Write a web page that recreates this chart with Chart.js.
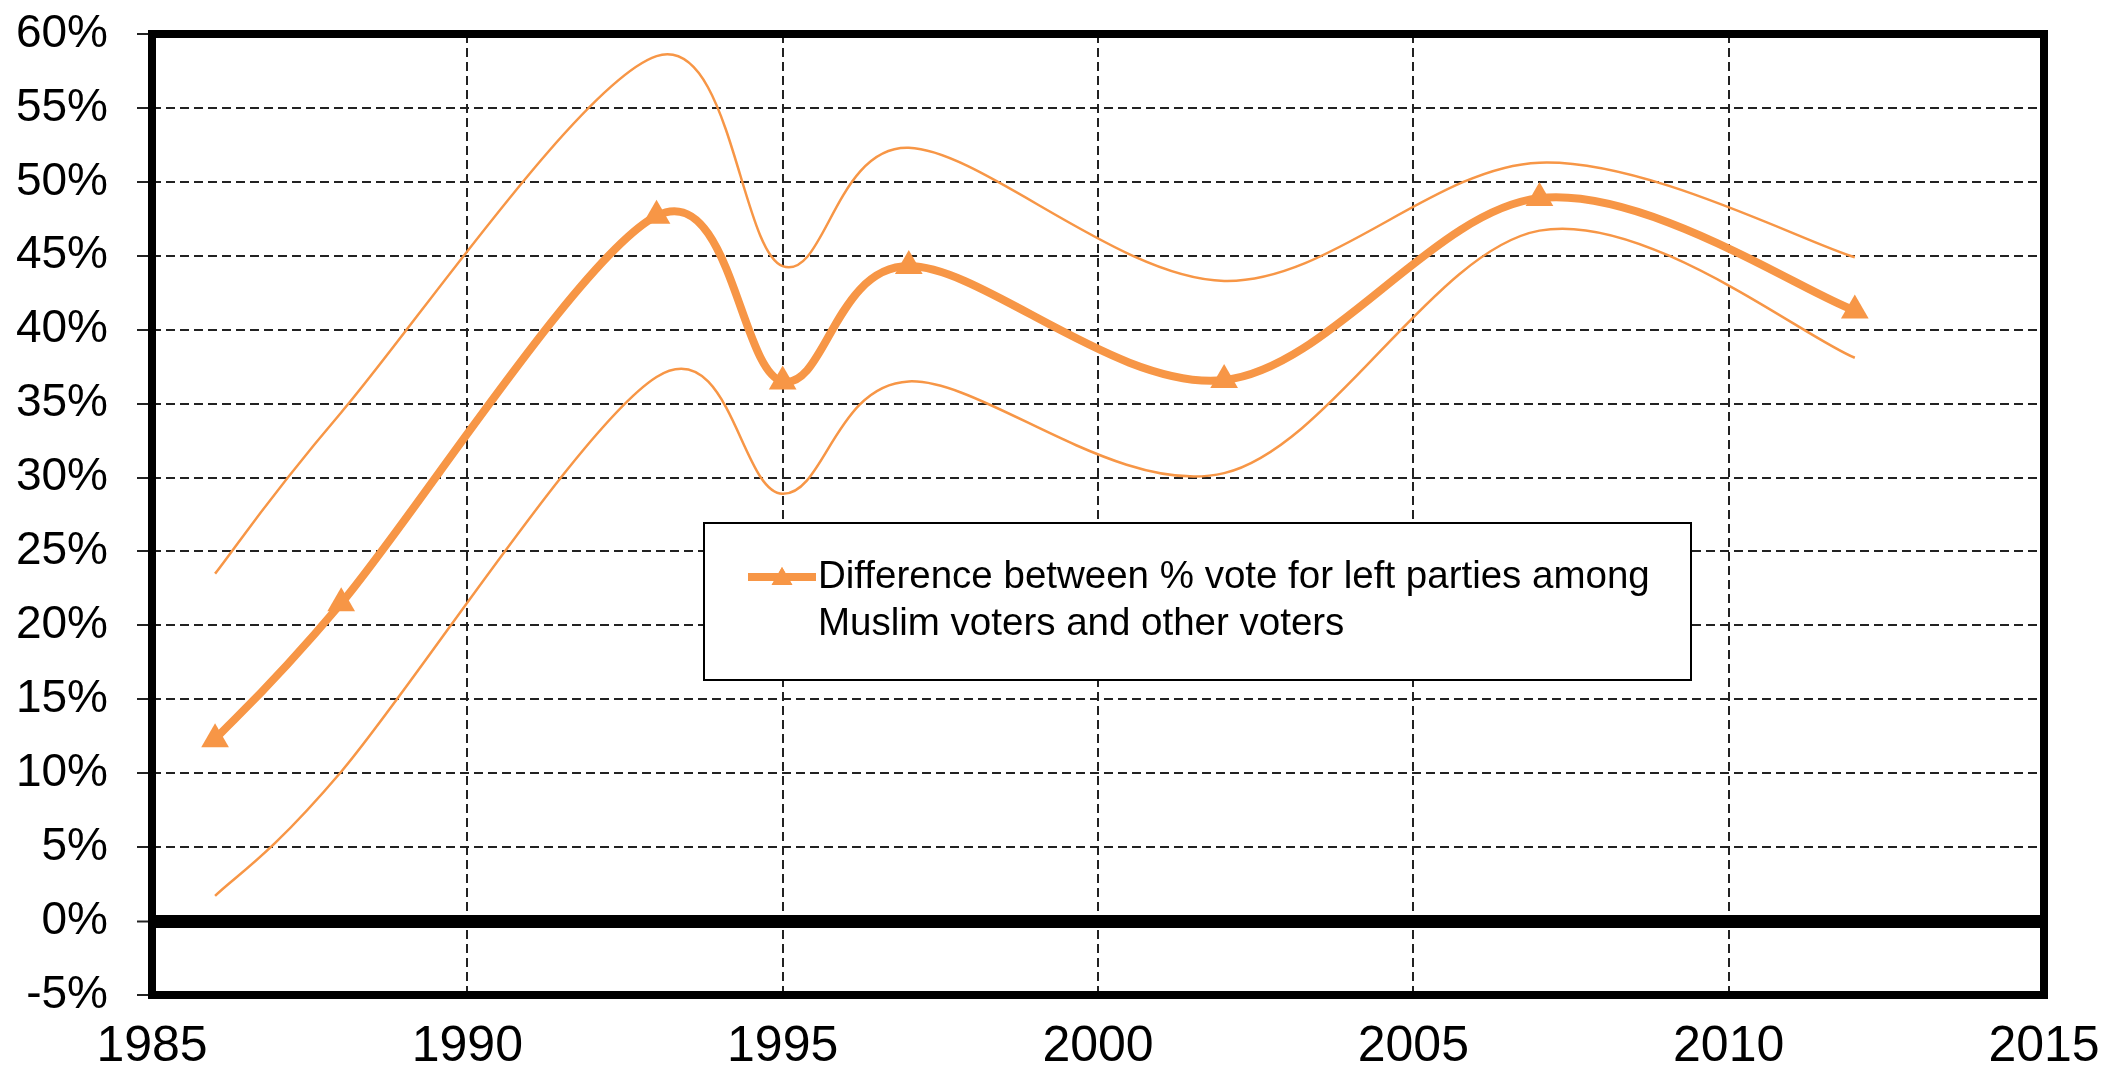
<!DOCTYPE html>
<html>
<head>
<meta charset="utf-8">
<script src="https://cdn.jsdelivr.net/npm/chart.js@4.4.1/dist/chart.umd.min.js"></script>
<style>
  html, body { margin: 0; padding: 0; background: #fff; }
  canvas { display: block; }
</style>
</head>
<body>
<canvas id="chart" width="2104" height="1081"></canvas>
<script>
// election years
const years = [1986, 1988, 1993, 1995, 1997, 2002, 2007, 2012];
// gap in left vote, Muslim vs other voters (%)
const gapValues = [12.3, 21.5, 47.7, 36.5, 44.3, 36.6, 48.9, 41.3];
// confidence band
const upperValues = [23.5, 34.4, 58.5, 44.3, 52.3, 43.3, 51.3, 44.9];
const lowerValues = [1.7, 10.1, 36.8, 28.9, 36.5, 30.3, 46.7, 38.1];

const xTicks = [1985, 1990, 1995, 2000, 2005, 2010, 2015];
const yTicks = [-5, 0, 5, 10, 15, 20, 25, 30, 35, 40, 45, 50, 55, 60];

const legendLines = ['Difference between % vote for left parties among', 'Muslim voters and other voters'];

const ORANGE = '#F79646';
const FONT = '"Liberation Sans", Arial, sans-serif';

const toPoints = vals => years.map((y, i) => ({ x: y, y: vals[i] }));

// Excel-like smoothing: uniform Catmull-Rom control points on the library's points
const smoothPlugin = {
    id: 'excelSmooth',
    beforeDatasetsDraw(chart) {
        chart.data.datasets.forEach((ds, i) => {
            const meta = chart.getDatasetMeta(i);
            const line = meta.dataset;
            if (!line || typeof line.updateControlPoints !== 'function') return;
            line.updateControlPoints(chart.chartArea, 'x');
            const pts = meta.data;
            const n = pts.length;
            for (let k = 0; k < n; k++) {
                const p = pts[k];
                const prev = pts[Math.max(k - 1, 0)];
                const next = pts[Math.min(k + 1, n - 1)];
                const dx = (next.x - prev.x) / 6;
                const dy = (next.y - prev.y) / 6;
                p.cp1x = p.x - dx; p.cp1y = p.y - dy;
                p.cp2x = p.x + dx; p.cp2y = p.y + dy;
            }
            line._path = undefined;
        });
    }
};

// frame around the plot + the boxed legend
const framePlugin = {
    id: 'frame',
    afterDatasetsDraw(chart) {
        const { ctx, chartArea: a } = chart;
        const ds = chart.data.datasets[0];
        // legend box
        const bx = a.left + 552, by = a.top + 489, bw = 987, bh = 157;
        ctx.save();
        ctx.fillStyle = '#fff';
        ctx.fillRect(bx, by, bw, bh);
        ctx.strokeStyle = '#000';
        ctx.lineWidth = 2;
        ctx.strokeRect(bx, by, bw, bh);
        // sample line + marker
        const sy = by + 54;
        ctx.strokeStyle = ds.borderColor;
        ctx.lineWidth = 8;
        ctx.beginPath();
        ctx.moveTo(bx + 44, sy);
        ctx.lineTo(bx + 112, sy);
        ctx.stroke();
        ctx.fillStyle = ds.borderColor;
        Chart.helpers.drawPoint(ctx, { pointStyle: 'triangle', radius: 12, borderWidth: 0 }, bx + 78, sy + 2);
        ctx.fill();
        ctx.fillStyle = '#000';
        ctx.font = '38.5px ' + FONT;
        ctx.textBaseline = 'middle';
        ctx.textAlign = 'left';
        legendLines.forEach((t, i) => ctx.fillText(t, bx + 114, sy + i * 47));
        ctx.restore();
    },
    afterDraw(chart) {
        const { ctx, chartArea: a } = chart;
        ctx.save();
        ctx.strokeStyle = '#000';
        ctx.lineWidth = 8;
        ctx.strokeRect(a.left, a.top, a.right - a.left, a.bottom - a.top);
        ctx.restore();
    }
};

new Chart(document.getElementById('chart'), {
    type: 'line',
    data: {
        datasets: [
            {
                label: legendLines.join(' '),
                data: toPoints(gapValues),
                borderColor: ORANGE,
                backgroundColor: ORANGE,
                borderWidth: 8,
                tension: 0.4,
                pointStyle: 'triangle',
                pointRadius: 16,
                pointBorderWidth: 0,
                pointBackgroundColor: ORANGE
            },
            {
                label: 'upper',
                data: toPoints(upperValues),
                borderColor: ORANGE,
                borderWidth: 2.5,
                tension: 0.4,
                pointRadius: 0
            },
            {
                label: 'lower',
                data: toPoints(lowerValues),
                borderColor: ORANGE,
                borderWidth: 2.5,
                tension: 0.4,
                pointRadius: 0
            }
        ]
    },
    options: {
        responsive: false,
        animation: false,
        devicePixelRatio: 1,
        layout: { padding: { top: 34, right: 60, left: 0, bottom: 0 } },
        plugins: {
            legend: { display: false },
            tooltip: { enabled: false }
        },
        scales: {
            x: {
                type: 'linear',
                min: xTicks[0],
                max: xTicks[xTicks.length - 1],
                afterBuildTicks: s => { s.ticks = xTicks.map(v => ({ value: v })); },
                afterFit: s => { s.height = 86; s.paddingLeft = 0; s.paddingRight = 0; },
                ticks: {
                    callback: v => String(v),
                    color: '#000',
                    font: { family: FONT, size: 50 },
                    padding: 22,
                    maxRotation: 0
                },
                grid: {
                    color: '#222',
                    lineWidth: 2,
                    drawTicks: false
                },
                border: { display: false, dash: [9, 5] }
            },
            y: {
                min: yTicks[0],
                max: yTicks[yTicks.length - 1],
                afterBuildTicks: s => { s.ticks = yTicks.map(v => ({ value: v })); },
                afterFit: s => { s.width = 152; s.paddingTop = 0; s.paddingBottom = 0; },
                ticks: {
                    callback: v => v + '%',
                    color: '#000',
                    font: { family: FONT, size: 46 },
                    padding: 29
                },
                grid: {
                    color: c => (c.tick && c.tick.value === 0 ? '#000' : '#222'),
                    lineWidth: c => (c.tick && c.tick.value === 0 ? 13 : 2),
                    tickLength: 15,
                    tickWidth: 2,
                    tickColor: '#222',
                    tickBorderDash: []
                },
                border: {
                    display: false,
                    dash: c => (c.tick && c.tick.value === 0 ? [] : [9, 5])
                }
            }
        }
    },
    plugins: [smoothPlugin, framePlugin]
});
</script>
</body>
</html>
